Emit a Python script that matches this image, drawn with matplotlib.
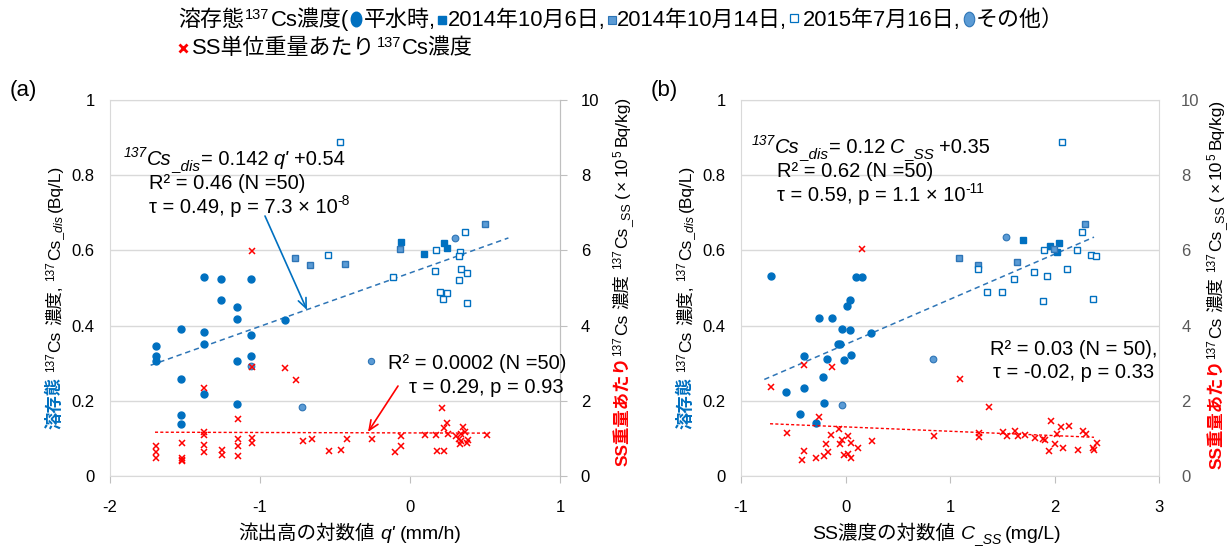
import numpy as np
import matplotlib
matplotlib.use('Agg')
import matplotlib.pyplot as plt
from matplotlib.lines import Line2D
from matplotlib.path import Path
from matplotlib.transforms import IdentityTransform, Affine2D
from matplotlib.ticker import FuncFormatter

plt.rcParams['font.family'] = ['Liberation Sans', 'Noto Sans CJK JP']
plt.rcParams['axes.unicode_minus'] = False

# ---- (a) log runoff q' ----
a_base_x = [-1.373, -1.26, -1.062, -1.26, -1.153, -1.153, -0.833, -1.527, -1.373, -1.373, -1.062,
            -1.696, -1.696, -1.696, -1.153, -1.062, -1.527, -1.373, -1.153, -1.527, -1.527]
a_base_y = [0.529, 0.524, 0.524, 0.468, 0.45, 0.418, 0.415, 0.39, 0.383, 0.35, 0.375,
            0.347, 0.318, 0.307, 0.305, 0.318, 0.259, 0.219, 0.191, 0.162, 0.137]
a_oct6_x = [-0.058, 0.096, 0.227, 0.244]
a_oct6_y = [0.623, 0.591, 0.619, 0.607]
a_oct14_x = [-0.769, -0.664, -0.431, -0.067, 0.502]
a_oct14_y = [0.579, 0.561, 0.565, 0.604, 0.671]
a_2015_x = [-0.467, -0.547, -0.111, 0.173, 0.333, 0.324, 0.164, 0.342, 0.378, 0.324, 0.2, 0.244,
            0.218, 0.378, 0.369]
a_2015_y = [0.888, 0.589, 0.529, 0.6, 0.597, 0.585, 0.546, 0.55, 0.539, 0.522, 0.49, 0.486,
            0.472, 0.461, 0.65]
a_other_x = [0.298, -0.718, -1.062]
a_other_y = [0.632, 0.184, 0.292]
a_ss_x = [-1.056, -1.056, -0.833, -0.762, -1.373, -1.144, -1.373, -1.373, -1.518, -1.696, -1.373,
          -1.373, -1.696, -1.696, -1.518, -1.518, -1.518, -1.251, -1.251, -1.144, -1.144, -1.144,
          -1.056, -1.056, -0.711, -0.656,
          0.211, 0.244, 0.227, 0.253, 0.173, 0.102, 0.351, 0.369, 0.342, 0.307, 0.324, 0.342, 0.387,
          0.378, 0.511, 0.333, 0.182, 0.227, -0.058, -0.058, -0.102, -0.253, -0.422, -0.458, -0.538]
a_ss_y = [5.98, 2.9, 2.87, 2.54, 2.34, 1.51, 1.18, 1.1, 0.87, 0.81, 0.83,
          0.63, 0.63, 0.47, 0.47, 0.43, 0.39, 0.69, 0.56, 0.99, 0.81, 0.52,
          1.0, 0.87, 0.92, 0.99,
          1.8, 1.41, 1.27, 1.13, 1.09, 1.09, 1.31, 1.17, 1.13, 1.06, 0.99, 0.92, 0.95,
          0.88, 1.09, 0.85, 0.67, 0.67, 1.06, 0.81, 0.63, 0.99, 0.99, 0.70, 0.67]
a_fit_dis = (0.142, 0.54)
a_fit_dis_x = [-1.729, 0.656]
a_fit_ss = (-0.011, 1.146)
a_fit_ss_x = [-1.70, 0.522]

# ---- (b) log SS concentration ----
b_base_x = [-0.713, 0.100, 0.155, 0.040, 0.014, -0.254, -0.126, -0.037, 0.040, 0.244, -0.075,
            -0.049, -0.394, -0.180, 0.053, -0.011, -0.215, -0.394, -0.572, -0.203, -0.433, -0.279]
b_base_y = [0.533, 0.529, 0.529, 0.468, 0.451, 0.419, 0.419, 0.39, 0.387, 0.38, 0.351,
            0.351, 0.319, 0.312, 0.323, 0.308, 0.262, 0.234, 0.223, 0.195, 0.166, 0.141]
b_oct6_x = [1.702, 1.957, 2.046, 2.021]
b_oct6_y = [0.628, 0.611, 0.621, 0.596]
b_oct14_x = [1.089, 1.268, 1.638, 2.29, 1.995]
b_oct14_y = [0.58, 0.562, 0.568, 0.671, 0.604]
b_2015_x = [2.072, 2.263, 1.903, 2.212, 2.354, 2.393, 1.268, 1.804, 2.123, 1.612, 1.931, 1.357,
            1.498, 1.893, 2.367]
b_2015_y = [0.888, 0.65, 0.601, 0.601, 0.589, 0.586, 0.55, 0.543, 0.55, 0.525, 0.532, 0.49,
            0.49, 0.465, 0.472]
b_other_x = [1.536, -0.037, 0.835]
b_other_y = [0.636, 0.188, 0.312]
b_ss_x = [0.155, -0.394, -0.126, -0.713, -0.254, -0.56, -0.062, -0.139, 0.027, -0.037, -0.189,
          -0.049, 0.053, 0.117, 0.257, -0.394, -0.164, -0.419, -0.279, -0.203, -0.011, 0.027, 0.053,
          1.099, 1.371, 0.844, 1.275, 1.275, 1.511, 1.549, 1.626, 1.651, 1.715, 1.817, 1.893, 1.906,
          1.97, 2.06, 2.136, 2.021, 2.277, 2.301, 2.009, 1.945, 2.085, 2.225, 2.365, 2.378, 2.404]
b_ss_y = [6.03, 2.95, 2.91, 2.37, 1.56, 1.14, 1.24, 1.09, 1.06, 0.95, 0.85,
          0.85, 0.88, 0.74, 0.92, 0.67, 0.63, 0.42, 0.49, 0.52, 0.56, 0.59, 0.49,
          2.59, 1.84, 1.07, 1.14, 1.03, 1.17, 1.06, 1.2, 1.06, 1.09, 1.02, 0.99, 0.95,
          1.45, 1.31, 1.34, 1.13, 1.2, 1.13, 0.85, 0.67, 0.74, 0.7, 0.74, 0.7, 0.88]
b_fit_dis = (0.12, 0.35)
b_fit_dis_x = [-0.777, 2.378]
b_fit_ss = (-0.116, 1.306)
b_fit_ss_x = [-0.722, 2.378]

BLUE = '#0070C0'
MID = '#5B9BD5'
MIDEDGE = '#2E75B6'
RED = '#FF0000'
GRID = '#D9D9D9'

W, H = 1231, 546
fig = plt.figure(figsize=(W / 100, H / 100), dpi=100)
axa = fig.add_axes([110 / W, 70 / H, 450 / W, 376 / H])
axb = fig.add_axes([741 / W, 70 / H, 418 / W, 376 / H])

fmt = FuncFormatter(lambda v, p: f'{v:g}')


def draw_panel(ax, xlim, xticks, d, rcolor, rticks_out):
    base_x, base_y, o6x, o6y, o14x, o14y, nx, ny, ox, oy, sx, sy, fd, fdx, fs, fsx = d
    ax.plot(base_x, base_y, ls='none', marker='o', ms=5, mfc=BLUE, mec=BLUE, zorder=3)
    ax.plot(o6x, o6y, ls='none', marker='s', ms=4.8, mfc=BLUE, mec=BLUE, zorder=3)
    ax.plot(o14x, o14y, ls='none', marker='s', ms=4.6, mfc=MID, mec=MIDEDGE, mew=1.0, zorder=3)
    ax.plot(nx, ny, ls='none', marker='s', ms=4.4, mfc='white', mec=BLUE, mew=1.0, zorder=3)
    ax.plot(ox, oy, ls='none', marker='o', ms=4.8, mfc=MID, mec=MIDEDGE, mew=0.8, zorder=3)
    fx = np.array(fdx)
    ax.plot(fx, fd[0] * fx + fd[1], color=MIDEDGE, lw=1.1, dashes=(3.5, 2.5), zorder=2)

    ax.set_xlim(xlim)
    ax.set_ylim(0, 1)
    ax.set_xticks(xticks)
    ax.set_yticks(np.arange(0, 1.01, 0.2))
    ax.xaxis.set_major_formatter(fmt)
    ax.yaxis.set_major_formatter(fmt)
    ax.grid(axis='y', color=GRID, lw=1)
    ax.set_axisbelow(True)
    for sp in ax.spines.values():
        sp.set_color(GRID)
    ax.tick_params(axis='y', length=0, pad=11, labelsize=12)
    ax.tick_params(axis='x', length=5, color='#BFBFBF', pad=12, labelsize=12)

    ax2 = ax.twinx()
    gx = np.array(fsx)
    ax2.plot(sx, sy, ls='none', marker='x', ms=5, mew=1.1, color=RED, zorder=3)
    ax2.plot(gx, fs[0] * gx + fs[1], color=RED, lw=1.0, dashes=(2.2, 1.6), zorder=2)
    ax2.set_ylim(0, 10)
    ax2.set_yticks(np.arange(0, 11, 2))
    ax2.yaxis.set_major_formatter(fmt)
    for sp in ax2.spines.values():
        sp.set_visible(False)
    ax2.tick_params(axis='y', length=5 if rticks_out else 0, color='#BFBFBF',
                    pad=10 if rticks_out else 16, labelsize=12, labelcolor=rcolor)
    if rticks_out:
        ax2.spines['right'].set_visible(True)
        ax2.spines['right'].set_color('#BFBFBF')
    return ax2


draw_panel(axa, (-2, 1), [-2, -1, 0, 1],
           (a_base_x, a_base_y, a_oct6_x, a_oct6_y, a_oct14_x, a_oct14_y, a_2015_x, a_2015_y,
            a_other_x, a_other_y, a_ss_x, a_ss_y, a_fit_dis, a_fit_dis_x, a_fit_ss, a_fit_ss_x),
           'black', True)
draw_panel(axb, (-1, 3), [-1, 0, 1, 2, 3],
           (b_base_x, b_base_y, b_oct6_x, b_oct6_y, b_oct14_x, b_oct14_y, b_2015_x, b_2015_y,
            b_other_x, b_other_y, b_ss_x, b_ss_y, b_fit_dis, b_fit_dis_x, b_fit_ss, b_fit_ss_x),
           '#595959', False)

renderer = fig.canvas.get_renderer()


def rich(x, y, parts, size=12, rot=0, center=False):
    """Lay out mixed-style text pieces one after another (pixel coords, y up)."""
    placed = []
    adv = 0.0
    for p in parts:
        if isinstance(p, (int, float)):
            adv += p
            continue
        s, st = p if isinstance(p, tuple) else (p, {})
        st = dict(st)
        rise = st.pop('rise', 0.0)
        if 'marker' in st:
            w = st.pop('w')
            ln = Line2D([0], [0], ls='none', transform=IdentityTransform(), **st)
            fig.add_artist(ln)
            placed.append((ln, adv + w / 2, rise, 'm'))
            adv += w
            continue
        fs = st.pop('size', size)
        t = fig.text(0, 0, s, transform=IdentityTransform(), rotation=rot,
                     rotation_mode='anchor', ha='left', va='baseline', fontsize=fs, **st)
        bb = t.get_window_extent(renderer)
        placed.append((t, adv, rise, 't'))
        adv += bb.height if rot else bb.width
    start = -adv / 2 if center else 0
    for a, off, rise, kind in placed:
        if rot:
            px, py = x - rise, y + start + off
        else:
            px, py = x + start + off, y + rise
        if kind == 'm':
            a.set_data([px], [py])
        else:
            a.set_position((px, py))


def Y(v):
    return H - v


ellipse = Affine2D().scale(0.72, 1.0).transform_path(Path.unit_circle())

# header legend
sup15 = dict(size=10.5, rise=7)
rich(178, Y(26), [
    '溶存態', 1, ('137', sup15), 1, 'Cs濃度(', 2,
    (None, dict(marker=ellipse, ms=10.5, mfc=BLUE, mec=BLUE, w=10, rise=7)), 3,
    '平水時,', 2,
    (None, dict(marker='s', ms=5.6, mfc=BLUE, mec=BLUE, w=9, rise=6)), 1,
    '2014年10月6日,', 2,
    (None, dict(marker='s', ms=5.6, mfc=MID, mec=MIDEDGE, mew=0.8, w=9, rise=6)), 1,
    '2014年10月14日,', 2,
    (None, dict(marker='s', ms=5.3, mfc='white', mec=BLUE, mew=0.9, w=9, rise=8)), 5,
    '2015年7月16日,', 3,
    (None, dict(marker=ellipse, ms=10.5, mfc=MID, mec=MIDEDGE, mew=0.8, w=10, rise=7)), 2,
    'その他）'], size=15.8)
rich(178, Y(54), [
    (None, dict(marker='x', ms=6, mew=2, color=RED, w=10, rise=6)), 4,
    'SS単位重量あたり', 1, ('137', sup15), 1, 'Cs濃度'], size=15.8)

# panel tags
fig.text(10 / W, Y(96) / H, '(a)', fontsize=16)
fig.text(651 / W, Y(96) / H, '(b)', fontsize=16)

sup = dict(size=8.5, rise=6)
sub = dict(size=9, rise=-3, style='italic')

# y labels, panel (a)
rich(60, Y(297), [
    ('溶存態', dict(color=BLUE, weight='bold')), 5, ('137', sup), 1, 'Cs', 5, '濃度,', 5,
    ('137', sup), 1, 'Cs', ('_dis', sub), 4, '(Bq/L)'], size=12.5, rot=90, center=True)
rich(627, Y(281), [
    ('SS重量あたり', dict(color=RED, weight='bold')), ('137', sup), 1, 'Cs', 5, '濃度', 5,
    ('137', sup), 1, 'Cs', ('_SS', dict(size=9, rise=-3)), 5, '(', 3, '×', 3, '10', ('5', sup),
    4, 'Bq/kg)'], size=12.5, rot=90, center=True)
# y labels, panel (b)
rich(691, Y(297), [
    ('溶存態', dict(color=BLUE, weight='bold')), 5, ('137', sup), 1, 'Cs', 5, '濃度,', 5,
    ('137', sup), 1, 'Cs', ('_dis', sub), 4, '(Bq/L)'], size=12.5, rot=90, center=True)
rich(1221, Y(284), [
    ('SS重量あたり', dict(color=RED, weight='bold')), ('137', sup), 1, 'Cs', 5, '濃度', 5,
    ('137', sup), 1, 'Cs', ('_SS', dict(size=9, rise=-3)), 5, '(', 3, '×', 3, '10', ('5', sup),
    4, 'Bq/kg)'], size=12.5, rot=90, center=True)

# x labels
rich(350, Y(539), ['流出高の対数値', 5, ("q'", dict(style='italic')), 5, '(mm/h)'],
     size=14, center=True)
rich(937, Y(539), ['SS濃度の対数値', 5, ('C', dict(style='italic')),
                   ('_SS', dict(size=10, rise=-4, style='italic')), 4, '(mg/L)'],
     size=14, center=True)

# regression annotations
esup = dict(size=10, rise=8, style='italic')
esub = dict(size=11, rise=-5, style='italic')
rich(124, Y(165), [('137', esup), ('Cs', dict(style='italic')), ('_dis', esub), 1, '= 0.142', 5,
                   ("q'", dict(style='italic')), 5, '+0.54'], size=14.5)
rich(149, Y(189), ['R² = 0.46 (N =50)'], size=14.5)
rich(149, Y(213), ['τ = 0.49, p = 7.3 × 10', ('-8', dict(size=10, rise=8))], size=14.5)

rich(366, Y(369), [(None, dict(marker='o', ms=4.5, mfc=MID, mec=MIDEDGE, mew=0.8, w=10, rise=8)), 12,
                   'R² = 0.0002 (N =50)'], size=14.5)
rich(409, Y(393), ['τ = 0.29, p = 0.93'], size=14.5)

rich(752, Y(153), [('137', esup), ('Cs', dict(style='italic')), ('_dis', esub), 1, '= 0.12', 5,
                   ('C', dict(style='italic')), ('_SS', esub), 5, '+0.35'], size=14.5)
rich(777, Y(177), ['R² = 0.62 (N =50)'], size=14.5)
rich(777, Y(201), ['τ = 0.59, p = 1.1 × 10', ('-11', dict(size=10, rise=8))], size=14.5)

rich(990, Y(355), ['R² = 0.03 (N = 50),'], size=14.5)
rich(993, Y(378), ['τ = -0.02, p = 0.33'], size=14.5)

# arrows pointing at the trend lines
arrows = [((265, 216), (307, 310), BLUE),
          ((398, 386), (368, 432), RED),
          ((875, 208), (929, 306), '#4472C4'),
          ((989, 368), (953, 432), RED)]
for (x0, y0), (x1, y1), c in arrows:
    axa.annotate('', xy=(x1, Y(y1)), xycoords='figure pixels',
                 xytext=(x0, Y(y0)), textcoords='figure pixels',
                 arrowprops=dict(arrowstyle='->,head_length=0.7,head_width=0.3', color=c, lw=1.2,
                                 shrinkA=0, shrinkB=0))

fig.savefig('out.png', dpi=100)
